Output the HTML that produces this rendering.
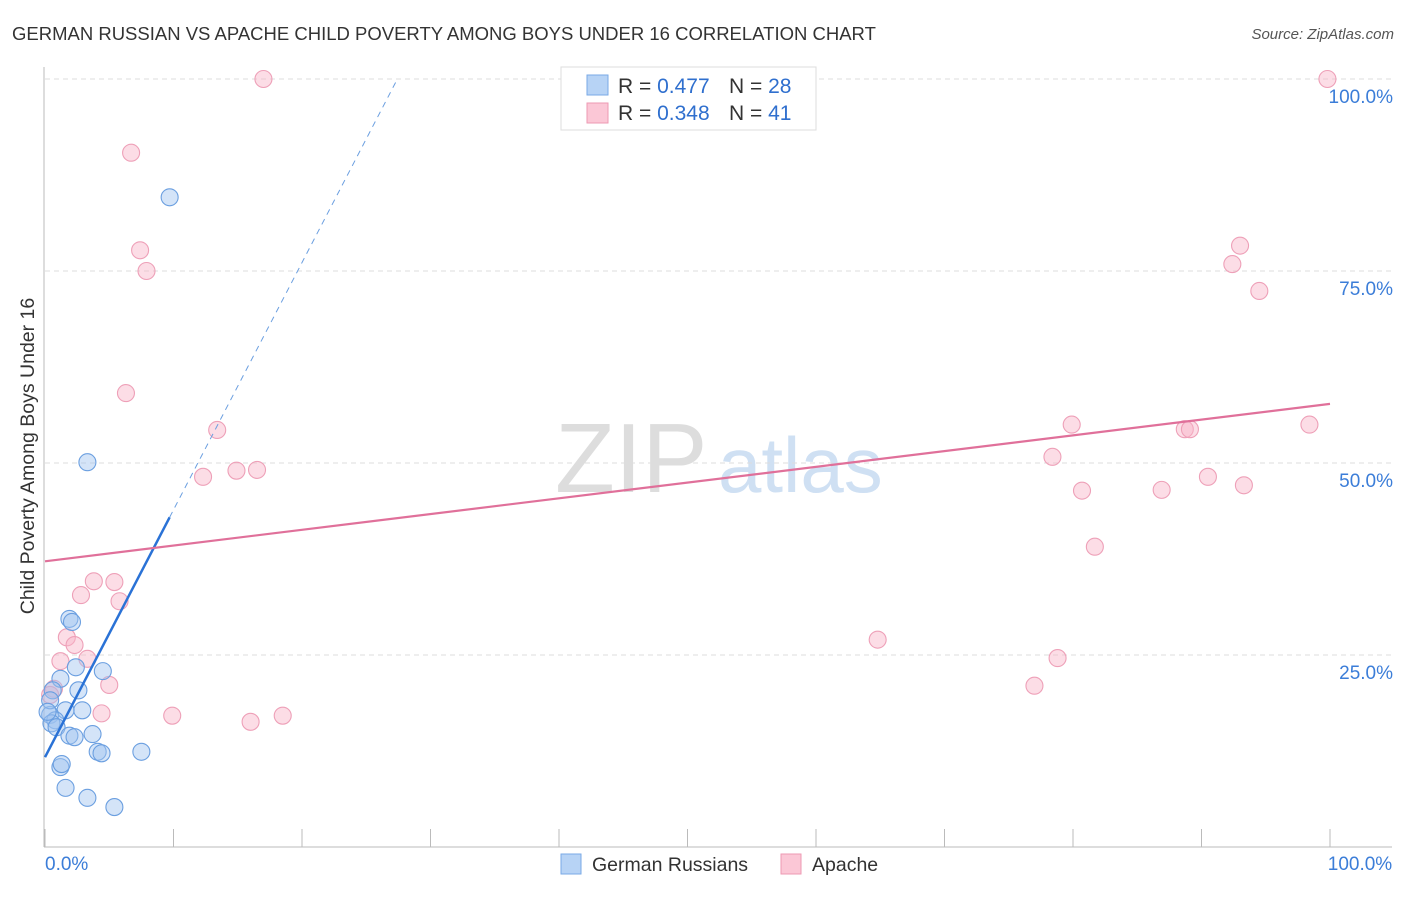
<!DOCTYPE html>
<html><head><meta charset="utf-8"><style>
body{margin:0;background:#fff;font-family:"Liberation Sans",sans-serif;}
svg text{font-family:"Liberation Sans",sans-serif;}
</style></head><body>
<svg id="chart" width="1406" height="892" xmlns="http://www.w3.org/2000/svg">
<text x="12" y="40" font-size="18.5" fill="#333">GERMAN RUSSIAN VS APACHE CHILD POVERTY AMONG BOYS UNDER 16 CORRELATION CHART</text>
<text x="1394" y="39" font-size="15" fill="#555" font-style="italic" text-anchor="end">Source: ZipAtlas.com</text>
<text x="34" y="456" font-size="19.5" fill="#333" text-anchor="middle" transform="rotate(-90 34 456)">Child Poverty Among Boys Under 16</text>
<text x="555" y="492" font-size="98" fill="#ddd" font-family="Liberation Serif">ZIP</text>
<text x="718" y="492" font-size="78" fill="#cfe0f3">atlas</text>
<g id="grid"></g>
<g id="pts"></g>
<g id="lines"></g>
<g>
<rect x="561" y="67" width="255" height="63" fill="#fff" stroke="#ddd"/>
<rect x="587" y="75" width="21" height="20" fill="#b7d3f5" stroke="#7aaae6"/>
<rect x="587" y="103" width="21" height="20" fill="#fbc7d6" stroke="#ee9ab3"/>
<text x="618" y="93" font-size="21" fill="#333">R = <tspan fill="#2f6fce">0.477</tspan></text>
<text x="729" y="93" font-size="21" fill="#333">N = <tspan fill="#2f6fce">28</tspan></text>
<text x="618" y="120" font-size="21" fill="#333">R = <tspan fill="#2f6fce">0.348</tspan></text>
<text x="729" y="120" font-size="21" fill="#333">N = <tspan fill="#2f6fce"> 41</tspan></text>
</g>
<g>
<rect x="561" y="854" width="20" height="20" fill="#b7d3f5" stroke="#7aaae6"/>
<text x="592" y="871" font-size="19.5" fill="#333">German Russians</text>
<rect x="781" y="854" width="20" height="20" fill="#fbc7d6" stroke="#ee9ab3"/>
<text x="812" y="871" font-size="19.5" fill="#333">Apache</text>
</g>
</svg>
<script>
const yTicks=[25,50,75,100];
const yTickLabels=["25.0%","50.0%","75.0%","100.0%"];
const xTicks=[0,10,20,30,40,50,60,70,80,90,100];
const xEndLabels=["0.0%","100.0%"];
const germanX=[9.7,3.3,1.9,2.1,2.4,4.5,1.2,0.6,2.6,2.9,1.6,0.4,0.8,0.5,0.9,1.9,2.3,3.7,4.1,4.4,7.5,1.2,1.3,1.6,3.3,5.4,0.4,0.2];
const germanY=[84.6,50.1,29.7,29.3,23.4,22.9,21.9,20.4,20.4,17.8,17.8,17.2,16.5,16.1,15.6,14.5,14.3,14.7,12.4,12.2,12.4,10.4,10.8,7.7,6.4,5.2,19.1,17.6];
const apacheX=[17.0,6.7,7.4,7.9,6.3,13.4,12.3,14.9,16.5,3.8,5.4,2.8,5.8,1.7,2.3,3.3,1.2,5.0,0.7,0.4,4.4,9.9,16.0,18.5,64.8,77.0,78.8,79.9,78.4,80.7,81.7,86.9,88.7,89.1,90.5,93.3,92.4,93.0,94.5,98.4,99.8];
const apacheY=[100,90.4,77.7,75,59.1,54.3,48.2,49,49.1,34.6,34.5,32.8,32,27.3,26.3,24.5,24.2,21.1,20.6,19.8,17.4,17.1,16.3,17.1,27,21,24.6,55,50.8,46.4,39.1,46.5,54.4,54.4,48.2,47.1,75.9,78.3,72.4,55,100];
const germanTrend=[11.7,3.22];
const apacheTrend=[37.2,0.205];
const X0=45,X1=1330,Y0=847,Y1=79;
const sx=v=>X0+(X1-X0)*v/100, sy=v=>Y0-(Y0-Y1)*v/100;
const NS="http://www.w3.org/2000/svg";
function mk(tag,attrs,parent){const e=document.createElementNS(NS,tag);for(const k in attrs)e.setAttribute(k,attrs[k]);parent.appendChild(e);return e;}
const grid=document.getElementById('grid');
yTicks.forEach((t,i)=>{
 const l=mk('line',{x1:45,x2:1392,y1:sy(t),y2:sy(t),stroke:'#ddd','stroke-dasharray':'5,4'},grid);
 
 
 const tx=mk('text',{x:1393,y:sy(t)+24,'font-size':19,fill:'#3b7dd8','text-anchor':'end'},grid);
 tx.textContent=yTickLabels[i];
 
 
});
const ax=mk('line',{x1:44,x2:44,y1:67,y2:847,stroke:'#bbb'},grid);


const bx=mk('line',{x1:44,x2:1392,y1:847,y2:847,stroke:'#bbb'},grid);


xTicks.forEach(t=>{
 const l=mk('line',{x1:sx(t),x2:sx(t),y1:829,y2:847,stroke:'#bbb'},grid);
 
 
});
[[0,'start'],[100,'middle']].forEach((p,i)=>{
 const tx=mk('text',{x:i?1360:45,y:870,'font-size':19,fill:'#3b7dd8','text-anchor':p[1]},grid);
 tx.textContent=xEndLabels[i];
 
 
});
const pts=document.getElementById('pts');
apacheX.forEach((x,i)=>{
 const c=mk('circle',{cx:sx(x),cy:sy(apacheY[i]),r:8.5,fill:'rgba(248,180,200,0.45)',stroke:'#eea0b8','stroke-width':1.1},pts);
 
 
});
germanX.forEach((x,i)=>{
 const c=mk('circle',{cx:sx(x),cy:sy(germanY[i]),r:8.5,fill:'rgba(160,196,240,0.45)',stroke:'#6b9fe0','stroke-width':1.1},pts);
 
 
});
const lines=document.getElementById('lines');
const gf=x=>germanTrend[0]+germanTrend[1]*x;
const gEnd=Math.max(...germanX);
const gl=mk('line',{x1:sx(0),y1:sy(gf(0)),x2:sx(gEnd),y2:sy(gf(gEnd)),stroke:'#2a72d6','stroke-width':2.5},lines);


const gx100=(100-germanTrend[0])/germanTrend[1];
const gd=mk('line',{x1:sx(gEnd),y1:sy(gf(gEnd)),x2:sx(gx100),y2:sy(100),stroke:'#6b9fe0','stroke-width':1,'stroke-dasharray':'6,5'},lines);


const af=x=>apacheTrend[0]+apacheTrend[1]*x;
const al=mk('line',{x1:sx(0),y1:sy(af(0)),x2:sx(100),y2:sy(af(100)),stroke:'#e0709a','stroke-width':2.2},lines);


</script>
</body></html>
